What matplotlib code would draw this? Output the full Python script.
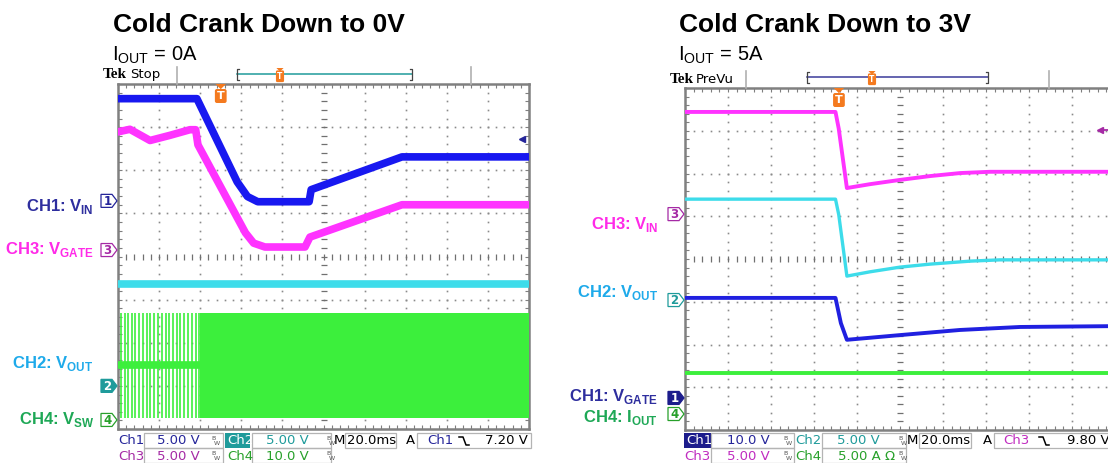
import numpy as np
import matplotlib
matplotlib.use("Agg")
import matplotlib.pyplot as plt
from matplotlib.lines import Line2D
from matplotlib.patches import Polygon, Rectangle

plt.rcParams['mathtext.fontset'] = 'custom'
plt.rcParams['mathtext.rm'] = 'Liberation Sans'
plt.rcParams['mathtext.bf'] = 'Liberation Sans:bold'

W, H = 1108, 463

# ---------------- data (time in ms from left edge of screen, 20 ms/div) ----------------
# left capture: cold crank down to 0 V, IOUT = 0 A
L_SCALE = {'CH1': 5.0, 'CH2': 5.0, 'CH3': 5.0, 'CH4': 10.0}     # V/div
L_OFFSET = {'CH1': 5.29, 'CH2': 1.0, 'CH3': 4.15, 'CH4': 0.21}  # ground level, div
L_VIN_T = [0, 38.4, 58, 63, 68, 93, 94, 138.2, 200]
L_VIN = [11.85, 11.85, 2.2, 0.5, -0.1, -0.1, 1.3, 5.1, 5.1]
L_VGATE_T = [0, 5.8, 15.6, 25.3, 35.0, 37.8, 38.9, 62, 66, 71.5, 91, 93.4, 138.2, 200]
L_VGATE = [13.7, 14.0, 12.7, 13.3, 13.95, 13.95, 12.2, 2.0, 0.8, 0.35, 0.35, 1.5, 5.25, 5.25]
L_VOUT_T = [0, 200]
L_VOUT = [11.8, 11.8]
L_VSW_IDLE = 12.75
L_VSW_LO, L_VSW_HI = 0.45, 24.8
L_VSW_PULSES = [1.5, 3.4, 4.9, 6.8, 8.3, 10.2, 12.2, 14.1, 15.6, 17.5, 19.5,
                21.4, 23.4, 24.8, 26.8, 28.7, 30.2, 32.1, 34.1, 36.0, 38.0, 39.4]
L_VSW_CONT = 40.0
L_TRIG_T, L_TRIG_LVL = 50.0, 7.2

# right capture: cold crank down to 3 V, IOUT = 5 A
R_SCALE = {'CH1': 10.0, 'CH2': 5.0, 'CH3': 5.0, 'CH4': 5.0}
R_OFFSET = {'CH1': 0.75, 'CH2': 3.04, 'CH3': 5.05, 'CH4': 0.374}
R_VIN_T = [0, 70.0, 71.5, 75.3, 86, 100, 114, 127.9, 141.9, 200]
R_VIN = [11.95, 11.95, 10.0, 3.05, 3.5, 4.0, 4.45, 4.8, 4.95, 4.95]
R_VOUT_T = [0, 70.0, 71.5, 75.3, 86, 100, 114, 132.6, 146.5, 200]
R_VOUT = [11.8, 11.8, 10.0, 2.8, 3.3, 3.85, 4.2, 4.55, 4.7, 4.7]
R_VGATE_T = [0, 70.0, 72.5, 75.3, 100, 127.9, 155.8, 200]
R_VGATE = [23.4, 23.4, 17.5, 13.6, 14.7, 15.9, 16.6, 16.8]
R_IOUT_T = [0, 200]
R_IOUT = [4.8, 4.8]
R_TRIG_T, R_TRIG_LVL = 71.6, 9.8

BLUE, MAG, CYAN, GREEN = '#1818f0', '#ff33ff', '#3ddcea', '#3cef3c'
C1, C2, C3, C4 = '#25259a', '#1f9b9b', '#a52aa5', '#27a02a'
ORANGE = '#f47a1f'

fig = plt.figure(figsize=(W / 100, H / 100), dpi=100)


def ftext(x, y, s, **kw):
    return fig.text(x / W, 1 - y / H, s, **kw)


def fline(xs, ys, **kw):
    fig.add_artist(Line2D([x / W for x in xs], [1 - y / H for y in ys],
                          transform=fig.transFigure, **kw))


def frect(x0, y0, x1, y1, **kw):
    fig.add_artist(Rectangle((x0 / W, 1 - y1 / H), (x1 - x0) / W, (y1 - y0) / H,
                             transform=fig.transFigure, **kw))


def fpoly(pts, **kw):
    fig.add_artist(Polygon([(x / W, 1 - y / H) for x, y in pts], closed=True,
                           transform=fig.transFigure, **kw))


def data_px(ax, t, lvl):
    xd, yd = ax.transData.transform((t, lvl))
    return xd, H - yd


def graticule(ax):
    ax.set_xlim(0, 200)
    ax.set_ylim(0, 8)
    ax.set_xticks(np.arange(0, 201, 20))
    ax.set_xticks(np.arange(0, 201, 4), minor=True)
    ax.set_yticks(np.arange(0, 9))
    ax.set_yticks(np.arange(0, 8.01, 0.2), minor=True)
    ax.tick_params(which='both', direction='in', length=3, width=0.8, color='#7f7f7f',
                   top=True, right=True, labelbottom=False, labelleft=False)
    for sp in ax.spines.values():
        sp.set_color('#808080')
        sp.set_linewidth(1.8)
    xs = np.arange(0, 201, 4)
    ys = np.arange(0, 8.01, 0.2)
    for k in range(1, 8):
        if k != 4:
            ax.plot(xs, np.full(xs.size, k), ls='none', marker='s', ms=1.2, mew=0,
                    color='#8a8a8a', zorder=1)
    for k in range(20, 200, 20):
        if k != 100:
            ax.plot(np.full(ys.size, k), ys, ls='none', marker='s', ms=1.2, mew=0,
                    color='#8a8a8a', zorder=1)
    ax.plot(xs, np.full(xs.size, 4), ls='none', marker='|', ms=5, mew=0.9,
            color='#707070', zorder=1)
    ax.plot(np.full(ys.size, 100), ys, ls='none', marker='_', ms=5, mew=0.9,
            color='#707070', zorder=1)


def to_div(v, ch, scale, offset):
    return offset[ch] + np.asarray(v, dtype=float) / scale[ch]


def ch_marker(ax, lvl, num, color, filled):
    xt, y = data_px(ax, 0, lvl)
    xt -= 1
    pts = [(xt - 16, y - 6.5), (xt - 5, y - 6.5), (xt, y), (xt - 5, y + 6.5), (xt - 16, y + 6.5)]
    fpoly(pts, fc=color if filled else 'white', ec=color, lw=0.9, zorder=5)
    ftext(xt - 9.5, y + 0.5, num, color='white' if filled else color, fontsize=8.5,
          weight='bold', ha='center', va='center', zorder=6)


def trig_flag(x, ytop, fs):
    w = fs * 0.65
    fpoly([(x - w, ytop), (x + w, ytop), (x, ytop + w)], fc=ORANGE, ec='none', zorder=6)
    ftext(x, ytop + w + fs * 0.85, 'T', color='white', fontsize=fs, weight='bold',
          ha='center', va='center', zorder=7,
          bbox=dict(boxstyle='round,pad=0.18', fc=ORANGE, ec='none'))


def bw(x, y):
    ftext(x, y - 2.5, 'B', fontsize=4.5, color='#555555', ha='left', va='center')
    ftext(x + 2.5, y + 2.5, 'W', fontsize=4.5, color='#555555', ha='left', va='center')


def edge_sym(x, y):
    fline([x, x + 4, x + 7, x + 10], [y - 4, y - 4, y + 4, y + 4], color='black', lw=1.1)


RO = dict(family='DejaVu Sans', fontsize=9.5, va='center')
BOX = dict(fc='none', ec='#b4b4b4', lw=0.9)
LAB = dict(family='Liberation Sans', fontsize=12, weight='bold', ha='right', va='baseline')

# ---------------- left scope ----------------
axL = fig.add_axes([118 / W, 1 - 429 / H, 411 / W, 345 / H])
graticule(axL)
ls, lo = L_SCALE, L_OFFSET
axL.plot(L_VIN_T, to_div(L_VIN, 'CH1', ls, lo), color=BLUE, lw=5.5, zorder=4)
axL.plot(L_VGATE_T, to_div(L_VGATE, 'CH3', ls, lo), color=MAG, lw=5.5, zorder=4)
axL.plot(L_VOUT_T, to_div(L_VOUT, 'CH2', ls, lo), color=CYAN, lw=5.5, zorder=4)
sw_lo = to_div(L_VSW_LO, 'CH4', ls, lo)
sw_hi = to_div(L_VSW_HI, 'CH4', ls, lo)
axL.plot([0, L_VSW_CONT], to_div([L_VSW_IDLE, L_VSW_IDLE], 'CH4', ls, lo), color=GREEN, lw=5.5, zorder=3)
axL.vlines(L_VSW_PULSES, sw_lo, sw_hi, color=GREEN, lw=1.2, zorder=3)
axL.fill_between([L_VSW_CONT, 200], sw_lo, sw_hi, color=GREEN, lw=0, zorder=3)
axL.plot(196.6, to_div(L_TRIG_LVL, 'CH1', ls, lo), marker='<', ms=5, color=C1, zorder=6)

ch_marker(axL, lo['CH1'], '1', C1, False)
ch_marker(axL, lo['CH3'], '3', C3, False)
ch_marker(axL, lo['CH2'], '2', C2, True)
ch_marker(axL, lo['CH4'], '4', C4, False)
tx, _ = data_px(axL, L_TRIG_T, 8)
trig_flag(tx, 84, 8)

ftext(94, 211, r'CH1: V$_{\mathbf{IN}}$', color='#2e2e9e', **LAB)
ftext(94, 254, r'CH3: V$_{\mathbf{GATE}}$', color='#ff2ae8', **LAB)
ftext(93, 368, r'CH2: V$_{\mathbf{OUT}}$', color='#1eaaea', **LAB)
ftext(94, 424, r'CH4: V$_{\mathbf{SW}}$', color='#1ea856', **LAB)

ftext(113, 31.5, 'Cold Crank Down to 0V', family='Liberation Sans', fontsize=19,
      weight='bold', va='baseline')
ftext(112, 61, r'I$_{\mathrm{OUT}}$ = 0A', family='Liberation Sans', fontsize=14.5, va='baseline')
ftext(103, 78, 'Tek', family='Liberation Serif', fontsize=11, weight='bold', va='baseline')
ftext(130, 78, 'Stop', family='DejaVu Sans', fontsize=9.5, va='baseline')
fline([177, 177], [67, 84], color='#b0b0b0', lw=1.2)
fline([471, 471], [67, 84], color='#b0b0b0', lw=1.2)
fline([237, 412], [74, 74], color='#1f9b9b', lw=1.1)
fline([239, 237, 237, 239], [69, 69, 80, 80], color='#444444', lw=0.9)
fline([410, 412, 412, 410], [69, 69, 80, 80], color='#444444', lw=0.9)
trig_flag(280, 68, 5.5)

# readout
ftext(118, 441, 'Ch1', color=C1, **RO)
frect(144, 433, 223, 448, **BOX)
ftext(200, 441, '5.00 V', color=C1, ha='right', **RO)
bw(211, 441)
frect(225, 433, 250, 448, fc=C2, ec='none')
ftext(227, 441, 'Ch2', color='white', **RO)
frect(252, 433, 331, 448, **BOX)
ftext(309, 441, '5.00 V', color=C2, ha='right', **RO)
bw(326, 441)
ftext(334, 441, 'M', color='black', **RO)
frect(345, 433, 396, 448, **BOX)
ftext(347, 441, '20.0ms', color='black', **RO)
ftext(406, 441, 'A', color='black', **RO)
frect(417, 433, 531, 448, **BOX)
ftext(427, 441, 'Ch1', color=C1, **RO)
edge_sym(459, 441)
ftext(528, 441, '7.20 V', color='black', ha='right', **RO)
ftext(118, 456, 'Ch3', color=C3, **RO)
frect(144, 448, 223, 463, **BOX)
ftext(200, 456, '5.00 V', color=C3, ha='right', **RO)
bw(211, 456)
ftext(227, 456, 'Ch4', color=C4, **RO)
frect(252, 448, 331, 463, **BOX)
ftext(309, 456, '10.0 V', color=C4, ha='right', **RO)
bw(326, 456)

# ---------------- right scope ----------------
axR = fig.add_axes([685 / W, 1 - 430 / H, 430 / W, 342 / H])
graticule(axR)
rs, ro = R_SCALE, R_OFFSET
axR.plot(R_VIN_T, to_div(R_VIN, 'CH3', rs, ro), color=MAG, lw=2.8, zorder=4)
axR.plot(R_VOUT_T, to_div(R_VOUT, 'CH2', rs, ro), color=CYAN, lw=2.4, zorder=4)
axR.plot(R_VGATE_T, to_div(R_VGATE, 'CH1', rs, ro), color='#2020e0', lw=2.8, zorder=4)
axR.plot(R_IOUT_T, to_div(R_IOUT, 'CH4', rs, ro), color=GREEN, lw=2.8, zorder=4)
trig_y = to_div(R_TRIG_LVL, 'CH3', rs, ro)
axR.plot([193, 199], [trig_y, trig_y], color=C3, lw=1.3, zorder=6)
axR.plot(193, trig_y, marker='<', ms=5, color=C3, zorder=6)

ch_marker(axR, ro['CH3'], '3', C3, False)
ch_marker(axR, ro['CH2'], '2', C2, False)
ch_marker(axR, ro['CH1'], '1', '#1c1c8c', True)
ch_marker(axR, ro['CH4'], '4', C4, False)
tx, _ = data_px(axR, R_TRIG_T, 8)
trig_flag(tx, 88, 8)

ftext(659, 229, r'CH3: V$_{\mathbf{IN}}$', color='#ff2ae8', **LAB)
ftext(658, 297, r'CH2: V$_{\mathbf{OUT}}$', color='#1eaaea', **LAB)
ftext(658, 401, r'CH1: V$_{\mathbf{GATE}}$', color='#2e2e9e', **LAB)
ftext(658, 422, r'CH4: I$_{\mathbf{OUT}}$', color='#1ea856', **LAB)

ftext(679, 31.5, 'Cold Crank Down to 3V', family='Liberation Sans', fontsize=19,
      weight='bold', va='baseline')
ftext(678, 61, r'I$_{\mathrm{OUT}}$ = 5A', family='Liberation Sans', fontsize=14.5, va='baseline')
ftext(670, 83, 'Tek', family='Liberation Serif', fontsize=11, weight='bold', va='baseline')
ftext(696, 83, 'PreVu', family='DejaVu Sans', fontsize=9.5, va='baseline')
fline([746, 746], [71, 88], color='#b0b0b0', lw=1.2)
fline([1049, 1049], [71, 88], color='#b0b0b0', lw=1.2)
fline([807, 988], [77, 77], color='#3a3a9a', lw=1.1)
fline([809, 807, 807, 809], [72, 72, 83, 83], color='#444444', lw=0.9)
fline([986, 988, 988, 986], [72, 72, 83, 83], color='#444444', lw=0.9)
trig_flag(872, 71, 5.5)

frect(684, 433, 711, 448, fc='#1c1c8c', ec='none')
ftext(686, 441, 'Ch1', color='white', **RO)
frect(711, 433, 794, 448, **BOX)
ftext(770, 441, '10.0 V', color=C1, ha='right', **RO)
bw(783, 441)
ftext(795, 441, 'Ch2', color=C2, **RO)
frect(822, 433, 906, 448, **BOX)
ftext(880, 441, '5.00 V', color=C2, ha='right', **RO)
bw(898, 441)
ftext(907, 441, 'M', color='black', **RO)
frect(919, 433, 971, 448, **BOX)
ftext(921, 441, '20.0ms', color='black', **RO)
ftext(983, 441, 'A', color='black', **RO)
frect(994, 433, 1120, 448, **BOX)
ftext(1003, 441, 'Ch3', color='#c02cc0', **RO)
edge_sym(1039, 441)
ftext(1067, 441, '9.80 V', color='black', **RO)
ftext(684, 456, 'Ch3', color='#c02cc0', **RO)
frect(711, 448, 794, 463, **BOX)
ftext(770, 456, '5.00 V', color='#c02cc0', ha='right', **RO)
bw(783, 456)
ftext(795, 456, 'Ch4', color=C4, **RO)
frect(822, 448, 906, 463, **BOX)
ftext(838, 456, '5.00 A \u03a9', color=C4, **RO)
bw(898, 456)

fig.savefig('out.png', dpi=100, facecolor='white')
